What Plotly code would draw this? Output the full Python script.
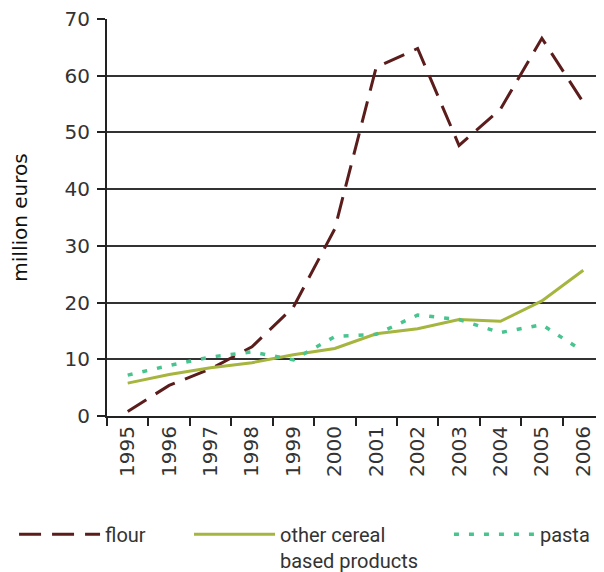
import plotly.graph_objects as go

years = ["1995", "1996", "1997", "1998", "1999", "2000", "2001", "2002", "2003", "2004", "2005", "2006"]
flour = [0.8, 5.4, 8.3, 12.2, 19.2, 33.0, 61.5, 64.8, 47.7, 54.1, 66.6, 55.3]
other_cereal = [5.8, 7.3, 8.5, 9.4, 10.8, 11.9, 14.5, 15.4, 17.0, 16.7, 20.3, 25.7]
pasta = [7.2, 8.9, 10.4, 11.3, 9.9, 14.0, 14.4, 17.8, 17.0, 14.7, 16.1, 11.4]

y_ticks = [0, 10, 20, 30, 40, 50, 60, 70]

fig = go.Figure()
fig.add_trace(go.Scatter(
    x=years, y=flour, mode="lines", name="flour",
    line=dict(color="#5b1c1c", width=3, dash="22px,11px"), legend="legend"))
fig.add_trace(go.Scatter(
    x=years, y=other_cereal, mode="lines", name="other cereal<br>based products",
    line=dict(color="#a6b53e", width=3), legend="legend2"))
fig.add_trace(go.Scatter(
    x=years, y=pasta, mode="lines", name="pasta",
    line=dict(color="#48c48e", width=3.5, dash="5px,10px"), legend="legend3"))

legend_font = dict(family="Roboto", size=20, color="#333333")
common = dict(orientation="h", yanchor="top", xanchor="left", font=legend_font,
              bgcolor="rgba(0,0,0,0)", valign="top", itemwidth=81)

tick_font = dict(family="DejaVu Sans", size=20, color="#333333")

fig.update_layout(
    width=604, height=572,
    margin=dict(l=99, r=8, t=11, b=164, autoexpand=False),
    paper_bgcolor="white", plot_bgcolor="white",
    font=dict(family="DejaVu Sans", size=20, color="#333333"),
    showlegend=True,
    legend=dict(x=-0.187, y=-0.249, **common),
    legend2=dict(x=0.165, y=-0.249, **common),
    legend3=dict(x=0.688, y=-0.249, **common),
    xaxis=dict(
        type="category", range=[-0.5, 11.5],
        tickmode="array", tickvals=years, ticktext=years,
        tickangle=-90, tickson="boundaries",
        ticks="outside", ticklen=8, tickwidth=2, tickcolor="#222222",
        showline=True, linecolor="#222222", linewidth=2,
        showgrid=False, zeroline=False,
        tickfont=tick_font, ticklabeloverflow="allow",
    ),
    yaxis=dict(
        range=[0, 70], tickmode="array", tickvals=y_ticks,
        ticks="outside", ticklen=8, tickwidth=2, tickcolor="#222222",
        showline=True, linecolor="#222222", linewidth=2,
        showgrid=True, gridcolor="#333333", gridwidth=2,
        zeroline=False, ticklabelstandoff=3, ticklabeloverflow="allow",
        tickfont=tick_font,
        title=dict(text="million euros", standoff=33,
                   font=dict(family="DejaVu Sans", size=20, color="#111111")),
    ),
)

fig.write_html("out.html")
